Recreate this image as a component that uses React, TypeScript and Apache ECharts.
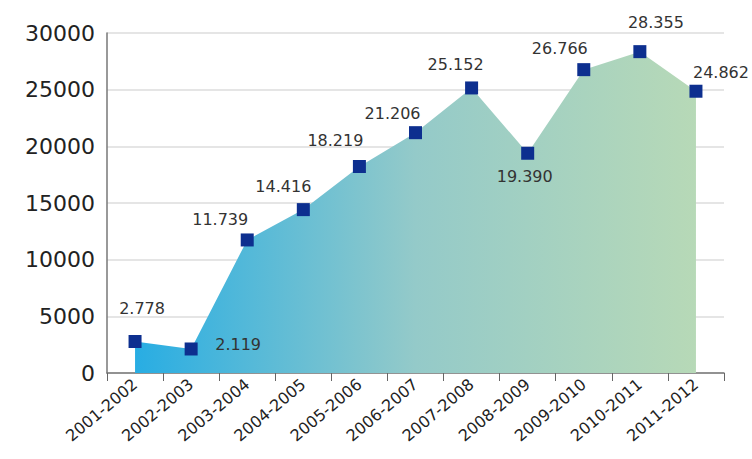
import React, { useEffect, useRef } from "react";
import * as echarts from "echarts";

const categories = [
  "2001-2002", "2002-2003", "2003-2004", "2004-2005", "2005-2006", "2006-2007",
  "2007-2008", "2008-2009", "2009-2010", "2010-2011", "2011-2012",
];
const values = [2778, 2119, 11739, 14416, 18219, 21206, 25152, 19390, 26766, 28355, 24862];
const yTicks = [0, 5000, 10000, 15000, 20000, 25000, 30000];

const labelOffsets: [number, number][] = [
  [7, -33], [47, -4], [-27, -20], [-20, -23], [-24, -26], [-23, -19],
  [-16, -23], [-3, 23], [-24, -21], [16, -29], [25, -19],
];

const fmt = (v: number) => {
  const s = String(v);
  return s.length > 3 ? s.slice(0, s.length - 3) + "." + s.slice(s.length - 3) : s;
};

export default function App() {
  const ref = useRef<HTMLDivElement>(null);
  useEffect(() => {
    if (!ref.current) return;
    const chart = echarts.init(ref.current, undefined, { renderer: "svg" });
    const font = "'DejaVu Sans', Verdana, sans-serif";
    chart.setOption({
      animation: false,
      backgroundColor: "#ffffff",
      grid: { left: 107, right: 28, top: 33, bottom: 86, containLabel: false },
      xAxis: {
        type: "category",
        data: categories,
        boundaryGap: true,
        axisLine: { lineStyle: { color: "#777", width: 1.5 } },
        axisTick: { show: true, length: 8, lineStyle: { color: "#666" } },
        axisLabel: {
          rotate: 40,
          fontSize: 16,
          color: "#222",
          fontFamily: font,
          margin: 9,
          interval: 0,
        },
        splitLine: { show: false },
      },
      yAxis: {
        type: "value",
        min: yTicks[0],
        max: yTicks[yTicks.length - 1],
        interval: 5000,
        axisLine: { show: true, lineStyle: { color: "#777", width: 1.5 } },
        axisTick: { show: false },
        axisLabel: {
          fontSize: 22,
          color: "#222",
          fontFamily: font,
          margin: 12,
          formatter: (v: number) => String(v),
        },
        splitLine: { show: true, lineStyle: { color: "#dcdcdc", width: 1.5 } },
      },
      series: [
        {
          type: "line",
          data: values.map((v, i) => ({
            value: v,
            label: { offset: labelOffsets[i] },
          })),
          symbol: "rect",
          symbolSize: 13,
          itemStyle: { color: "#0d2f8f" },
          lineStyle: { width: 0, opacity: 0 },
          areaStyle: {
            opacity: 1,
            color: new echarts.graphic.LinearGradient(0, 0, 1, 0, [
              { offset: 0, color: "#28ade3" },
              { offset: 0.5, color: "#94cac9" },
              { offset: 1, color: "#b7d9b7" },
            ]),
          },
          label: {
            show: true,
            position: "inside",
            formatter: (p: any) => fmt(p.value),
            fontSize: 16,
            color: "#333",
            fontFamily: font,
          },
          z: 3,
        },
      ],
    });
    return () => chart.dispose();
  }, []);
  return <div ref={ref} style={{ width: 752, height: 459, position: "absolute", left: 0, top: 0 }} />;
}
